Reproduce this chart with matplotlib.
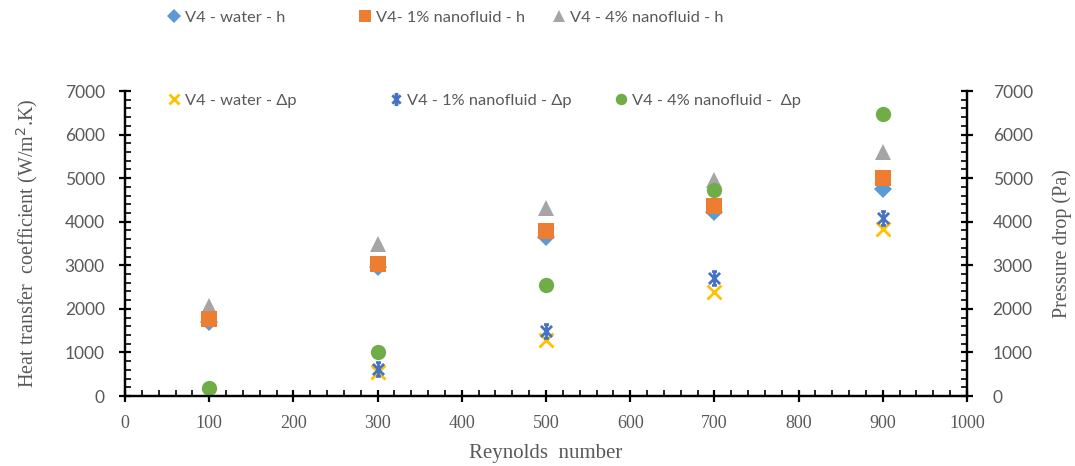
import numpy as np
import matplotlib.pyplot as plt
from matplotlib.path import Path
from matplotlib.ticker import MultipleLocator

plt.rcParams['font.family'] = ['Lato', 'DejaVu Sans']

# Reynolds numbers and measured values
re = [100, 300, 500, 700, 900]
h_water = [1700, 2960, 3650, 4230, 4740]
h_nf1 = [1770, 3030, 3780, 4360, 5000]
h_nf4 = [2060, 3480, 4310, 4960, 5590]
dp_water = [15, 540, 1290, 2380, 3840]
dp_nf1 = [25, 630, 1490, 2700, 4090]
dp_nf4 = [180, 1010, 2550, 4730, 6470]

grey = '#595959'

# asterisk marker: vertical bar with caps plus a diagonal cross
star = Path([(0, -1), (0, 1), (-0.35, 1), (0.35, 1), (-0.35, -1), (0.35, -1),
             (-0.8, -0.8), (0.8, 0.8), (-0.8, 0.8), (0.8, -0.8)],
            [Path.MOVETO, Path.LINETO, Path.MOVETO, Path.LINETO, Path.MOVETO, Path.LINETO,
             Path.MOVETO, Path.LINETO, Path.MOVETO, Path.LINETO])

fig = plt.figure(figsize=(10.75, 4.66), dpi=100)
ax = fig.add_axes([0.1163, 0.1502, 0.7832, 0.6545])
ax2 = ax.twinx()

s_tri, = ax.plot(re, h_nf4, '^', color='#A5A5A5', ms=12, mew=0, zorder=2, label='V4 - 4% nanofluid - h')
s_dia, = ax.plot(re, h_water, 'D', color='#5B9BD5', ms=9, mew=0, zorder=3, label='V4 - water - h')
s_sq, = ax.plot(re, h_nf1, 's', color='#ED7D31', ms=11, mew=0, zorder=4, label='V4- 1% nanofluid - h')

s_x, = ax2.plot(re, dp_water, 'x', color='#FFC000', ms=10, mew=2, label='V4 - water - \u0394p')
s_st, = ax2.plot(re, dp_nf1, marker=star, ls='none', color='#4472C4', ms=10, mew=2,
                 label='V4 - 1% nanofluid - \u0394p')
s_ci, = ax2.plot(re, dp_nf4, 'o', color='#70AD47', ms=11, mew=0, label='V4 - 4% nanofluid -  \u0394p')

ax.set_xlim(0, 1000)
ax.set_ylim(0, 7000)
ax2.set_ylim(0, 7000)
ax.xaxis.set_major_locator(MultipleLocator(100))
ax.xaxis.set_minor_locator(MultipleLocator(20))
for a in (ax, ax2):
    a.yaxis.set_major_locator(MultipleLocator(1000))
    a.yaxis.set_minor_locator(MultipleLocator(200))
    a.spines['top'].set_visible(False)
    for sp in a.spines.values():
        sp.set_linewidth(1.6)
    a.tick_params(which='major', direction='inout', length=9, width=1.6, colors='black',
                  labelcolor=grey, labelsize=12.5)
    a.tick_params(which='minor', direction='in', length=4, width=1.2, colors='black')
ax.tick_params(axis='y', pad=10)
ax2.tick_params(axis='y', pad=14)
ax.tick_params(axis='x', pad=9)
for lab in ax.get_xticklabels():
    lab.set_family('Liberation Serif')
    lab.set_fontsize(13)

ax.set_xlabel('Reynolds  number', family='Liberation Serif', fontsize=15, color=grey, labelpad=9)
ax.set_ylabel('Heat transfer  coefficient (W/m$^2$.K)', family='Liberation Serif', fontsize=14.5,
              color=grey, labelpad=18)
ax2.set_ylabel('Pressure drop (Pa)', family='Liberation Serif', fontsize=14.5, color=grey, labelpad=14)


def put_entry(handle, xpix, ypix):
    leg = fig.legend([handle], [handle.get_label()], loc='center left',
                     bbox_to_anchor=(xpix / 1075, 1 - ypix / 466), frameon=False,
                     borderpad=0, borderaxespad=0, handlelength=0.7, handletextpad=0.35,
                     markerscale=0.75, prop={'family': 'Lato', 'size': 11.8})
    for t in leg.get_texts():
        t.set_color(grey)


put_entry(s_dia, 168, 18)
put_entry(s_sq, 359, 18)
put_entry(s_tri, 553, 18)
put_entry(s_x, 168, 101)
put_entry(s_st, 390, 101)
put_entry(s_ci, 615, 101)

fig.savefig('out.png', dpi=100)
